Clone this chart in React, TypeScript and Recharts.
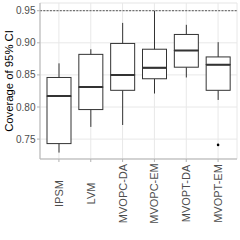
import {
  Bar,
  CartesianGrid,
  ComposedChart,
  Line,
  ReferenceLine,
  XAxis,
  YAxis,
} from "recharts";

const methods = ["IPSM", "LVM", "MVOPC-DA", "MVOPC-EM", "MVOPT-DA", "MVOPT-EM"];
const whiskerLow = [0.729, 0.769, 0.772, 0.821, 0.846, 0.811];
const q1 = [0.743, 0.796, 0.826, 0.844, 0.862, 0.826];
const median = [0.817, 0.831, 0.85, 0.861, 0.888, 0.866];
const q3 = [0.846, 0.882, 0.899, 0.89, 0.913, 0.878];
const whiskerHigh = [0.868, 0.89, 0.931, 0.95, 0.928, 0.901];
const outlier = [null, null, null, null, null, 0.741];
const yTicks = [0.75, 0.8, 0.85, 0.9, 0.95];
const yMinorTicks = [0.725, 0.775, 0.825, 0.875, 0.925];
const nominal = 0.95;

const rows = methods.map((name, i) => ({
  name,
  base: whiskerLow[i],
  lowWhisker: q1[i] - whiskerLow[i],
  lowBox: median[i] - q1[i],
  highBox: q3[i] - median[i],
  highWhisker: whiskerHigh[i] - q3[i],
  outlier: outlier[i],
}));

const INK = "#333333";
const FRAME = "#b3b3b3";
const TEXT = "#4d4d4d";

function Whisker(p: any) {
  const cx = p.x + p.width / 2;
  return <line x1={cx} x2={cx} y1={p.y} y2={p.y + p.height} stroke={INK} strokeWidth={1} />;
}

function LowerBox(p: any) {
  return <rect x={p.x} y={p.y} width={p.width} height={p.height} fill="#fff" stroke={INK} strokeWidth={1} />;
}

// median drawn here so the later rect doesn't cover it
function UpperBox(p: any) {
  const yMed = p.y + p.height;
  return (
    <g>
      <rect x={p.x} y={p.y} width={p.width} height={p.height} fill="#fff" stroke={INK} strokeWidth={1} />
      <line x1={p.x} x2={p.x + p.width} y1={yMed} y2={yMed} stroke={INK} strokeWidth={2} />
    </g>
  );
}

function OutlierDot(p: any) {
  if (p.value == null || p.cy == null || Number.isNaN(p.cy)) return <g key={p.key} />;
  return <circle key={p.key} cx={p.cx} cy={p.cy} r={1.3} fill="#000" />;
}

function MethodTick({ x, y, payload }: any) {
  const cy = y + 29.5;
  return (
    <text
      x={x}
      y={cy}
      transform={`rotate(-90 ${x} ${cy})`}
      textAnchor="middle"
      dominantBaseline="central"
      fill={TEXT}
      fontSize={11}
    >
      {payload.value}
    </text>
  );
}

function YTitle({ viewBox }: any) {
  const cx = viewBox.x + 9;
  const cy = viewBox.y + viewBox.height / 2;
  return (
    <text
      x={cx}
      y={cy}
      transform={`rotate(-90 ${cx} ${cy})`}
      textAnchor="middle"
      dominantBaseline="central"
      fill="#000"
      fontSize={11.3}
    >
      Coverage of 95% CI
    </text>
  );
}

export default function App() {
  return (
    <div
      style={{
        position: "absolute",
        left: 0,
        top: 0,
        width: 240,
        height: 240,
        background: "#fff",
        fontFamily: "'Liberation Sans', Arial, sans-serif",
      }}
    >
      <ComposedChart width={240} height={240} data={rows} margin={{ top: 3, right: 3, left: 0, bottom: 0 }}>
        <CartesianGrid yAxisId="minor" stroke="#f3f3f3" strokeWidth={0.6} vertical={false} />
        <CartesianGrid stroke="#e8e8e8" strokeWidth={1} />
        <XAxis
          dataKey="name"
          type="category"
          padding={{ left: 3, right: 3 }}
          height={81}
          tick={<MethodTick />}
          tickSize={3}
          tickMargin={2}
          tickLine={{ stroke: FRAME }}
          axisLine={{ stroke: FRAME }}
          interval={0}
        />
        <XAxis xAxisId="top" dataKey="name" orientation="top" height={0} tick={false} tickLine={false} axisLine={{ stroke: FRAME }} />
        <YAxis
          domain={[0.719, 0.962]}
          allowDataOverflow
          ticks={yTicks}
          width={40}
          tickFormatter={(v: number) => v.toFixed(2)}
          tick={{ fill: TEXT, fontSize: 10 }}
          tickSize={3}
          tickMargin={1.5}
          tickLine={{ stroke: FRAME }}
          axisLine={{ stroke: FRAME }}
          label={{ content: (props: any) => <YTitle {...props} /> }}
        />
        <YAxis
          yAxisId="minor"
          orientation="right"
          domain={[0.719, 0.962]}
          allowDataOverflow
          ticks={yMinorTicks}
          width={0}
          tick={false}
          tickLine={false}
          axisLine={{ stroke: FRAME }}
        />
        <ReferenceLine y={nominal} stroke="#555" strokeWidth={1} strokeDasharray="2 1.3" />
        <Bar dataKey="base" stackId="box" barSize={24} fill="none" shape={() => <g />} isAnimationActive={false} />
        <Bar dataKey="lowWhisker" stackId="box" barSize={24} shape={<Whisker />} isAnimationActive={false} />
        <Bar dataKey="lowBox" stackId="box" barSize={24} shape={<LowerBox />} isAnimationActive={false} />
        <Bar dataKey="highBox" stackId="box" barSize={24} shape={<UpperBox />} isAnimationActive={false} />
        <Bar dataKey="highWhisker" stackId="box" barSize={24} shape={<Whisker />} isAnimationActive={false} />
        <Line
          dataKey="outlier"
          stroke="none"
          dot={(p: any) => <OutlierDot {...p} />}
          activeDot={false}
          legendType="none"
          isAnimationActive={false}
        />
      </ComposedChart>
    </div>
  );
}
